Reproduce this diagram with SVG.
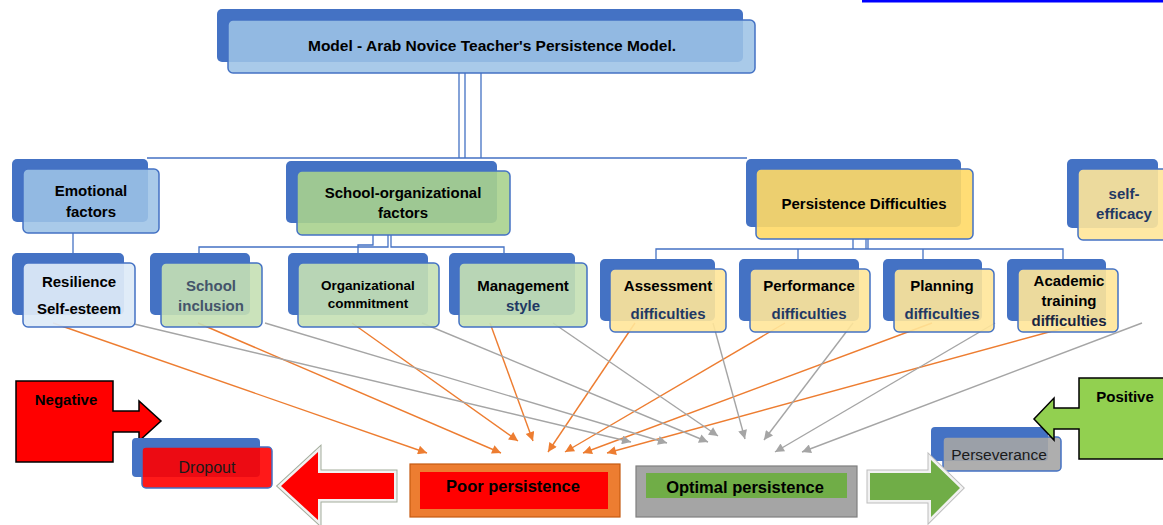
<svg xmlns="http://www.w3.org/2000/svg" width="1163" height="525" viewBox="0 0 1163 525">
<defs>
<style>
text{font-family:"Liberation Sans",Arial,sans-serif;text-anchor:middle}
.b{font-weight:bold;font-size:15px;fill:#000}
.r{font-size:15.5px;fill:#1a1a1a}
.nv{fill:#1F3864}
.sl{fill:#44546A}
.back{fill:#4472C4}
.fr{stroke:#4472C4;stroke-width:1.5}
.blue{fill:#9DC3E6;fill-opacity:.88}
.lblue{fill:#DEEBF7;fill-opacity:.93}
.green{fill:#A9D18E;fill-opacity:.9}
.lgreen{fill:#C5E0B4;fill-opacity:.9}
.gold{fill:#FFD966;fill-opacity:.9}
.lgold{fill:#FFE699;fill-opacity:.9}
.red{fill:#FF0000;fill-opacity:.9}
.grey{fill:#A5A5A5;fill-opacity:.9}
.tree{fill:none;stroke:#4472C4;stroke-width:1.3}
.ao{stroke:#ED7D31;stroke-width:1.4;fill:none;marker-end:url(#mo)}
.ag{stroke:#A5A5A5;stroke-width:1.4;fill:none;marker-end:url(#mg)}
</style>
<marker id="mo" viewBox="0 0 10 10" refX="10" refY="5" markerWidth="11" markerHeight="9" markerUnits="userSpaceOnUse" orient="auto"><path d="M0,0 L10,5 L0,10 z" fill="#ED7D31"/></marker>
<marker id="mg" viewBox="0 0 10 10" refX="10" refY="5" markerWidth="11" markerHeight="9" markerUnits="userSpaceOnUse" orient="auto"><path d="M0,0 L10,5 L0,10 z" fill="#A5A5A5"/></marker>
</defs>
<rect width="1163" height="525" fill="#fff"/>
<rect x="862" y="0" width="301" height="2.5" fill="#0000FF"/>

<g id="connectors">
<path class="tree" d="M459,73 V158 M465,73 V158 M481,73 V158 M147,158 H747"/>
<path class="tree" d="M73,233 V253"/>
<path class="tree" d="M373,235 V245 H358 V253 M388,235 V247 H199 V253 M391,235 V247 H504 V253"/>
<path class="tree" d="M853,239 V249 M866,239 V249 M868,239 V249 M656,259 V249 H1063 V259 M798,249 V259 M923,249 V259"/>
<path class="ao" d="M53,323 L427,453"/>
<path class="ao" d="M198,323 L501,453"/>
<path class="ao" d="M352,323 L518,441"/>
<path class="ao" d="M490,323 L533,441"/>
<path class="ao" d="M635,323 L548,452"/>
<path class="ao" d="M785,323 L565,452"/>
<path class="ao" d="M932,323 L583,453"/>
<path class="ao" d="M1082,323 L607,453"/>
<path class="ag" d="M130,323 L631,442"/>
<path class="ag" d="M265,323 L667,443"/>
<path class="ag" d="M422,323 L708,442"/>
<path class="ag" d="M553,323 L718,436"/>
<path class="ag" d="M713,323 L745,439"/>
<path class="ag" d="M853,323 L764,440"/>
<path class="ag" d="M995,323 L775,452"/>
<path class="ag" d="M1142,323 L802,452"/>
</g>

<g id="title">
<rect class="back" x="217" y="9" width="526" height="53" rx="5"/>
<rect class="fr blue" x="228" y="20" width="527" height="53" rx="5"/>
<text class="b" x="492" y="51" style="font-size:15.5px">Model - Arab Novice Teacher's Persistence Model.</text>
</g>

<g id="emotional">
<rect class="back" x="12" y="159" width="136" height="63" rx="5"/>
<rect class="fr blue" x="23" y="169" width="136" height="64" rx="5"/>
<text class="b" x="91" y="196">Emotional</text>
<text class="b" x="91" y="217">factors</text>
</g>

<g id="school-org">
<rect class="back" x="286" y="161" width="211" height="62" rx="5"/>
<rect class="fr green" x="297" y="171" width="213" height="64" rx="5"/>
<text class="b" x="403" y="198">School-organizational</text>
<text class="b" x="403" y="218">factors</text>
</g>

<g id="persistence-difficulties">
<rect class="back" x="746" y="159" width="215" height="68" rx="5"/>
<rect class="fr gold" x="756" y="169" width="217" height="70" rx="5"/>
<text class="b" x="864" y="209">Persistence Difficulties</text>
</g>

<g id="self-efficacy">
<rect class="back" x="1067" y="159" width="91" height="69" rx="5"/>
<rect class="fr lgold" x="1078" y="169" width="95" height="71" rx="5"/>
<text class="b nv" x="1124" y="199">self-</text>
<text class="b nv" x="1124" y="219">efficacy</text>
</g>

<g id="resilience">
<rect class="back" x="12" y="253" width="112" height="62" rx="5"/>
<rect class="fr lblue" x="23" y="263" width="112" height="64" rx="5"/>
<text class="b" x="79" y="287">Resilience</text>
<text class="b" x="79" y="314">Self-esteem</text>
</g>

<g id="school-inclusion">
<rect class="back" x="150" y="253" width="100" height="62" rx="5"/>
<rect class="fr lgreen" x="161" y="263" width="101" height="64" rx="5"/>
<text class="b sl" x="211" y="291">School</text>
<text class="b sl" x="211" y="311">inclusion</text>
</g>

<g id="org-commitment">
<rect class="back" x="288" y="253" width="140" height="62" rx="5"/>
<rect class="fr lgreen" x="298" y="263" width="141" height="64" rx="5"/>
<text class="b" x="368" y="290" style="font-size:13.5px">Organizational</text>
<text class="b" x="368" y="308" style="font-size:13.5px">commitment</text>
</g>

<g id="management">
<rect class="back" x="449" y="253" width="126" height="62" rx="5"/>
<rect class="fr lgreen" x="459" y="263" width="128" height="64" rx="5"/>
<text class="b" x="523" y="291">Management</text>
<text class="b nv" x="523" y="311">style</text>
</g>

<g id="assessment">
<rect class="back" x="600" y="259" width="115" height="62" rx="5"/>
<rect class="fr lgold" x="610" y="269" width="116" height="63" rx="5"/>
<text class="b" x="668" y="291">Assessment</text>
<text class="b nv" x="668" y="319">difficulties</text>
</g>

<g id="performance">
<rect class="back" x="739" y="259" width="120" height="62" rx="5"/>
<rect class="fr lgold" x="750" y="269" width="120" height="63" rx="5"/>
<text class="b" x="809" y="291">Performance</text>
<text class="b nv" x="809" y="319">difficulties</text>
</g>

<g id="planning">
<rect class="back" x="883" y="259" width="99" height="62" rx="5"/>
<rect class="fr lgold" x="894" y="269" width="100" height="63" rx="5"/>
<text class="b" x="942" y="291">Planning</text>
<text class="b nv" x="942" y="319">difficulties</text>
</g>

<g id="academic">
<rect class="back" x="1007" y="259" width="99" height="62" rx="5"/>
<rect class="fr lgold" x="1018" y="269" width="100" height="63" rx="5"/>
<text class="b" x="1069" y="286">Academic</text>
<text class="b" x="1069" y="306">training</text>
<text class="b" x="1069" y="326" style="fill:#1a2540">difficulties</text>
</g>

<g id="negative">
<polygon points="16,381 113,381 113,411 139,411 139,401 161,421 139,441 139,432 113,432 113,462 16,462" fill="#FF0000" stroke="#000" stroke-width="1.5"/>
<text class="b" x="66" y="405">Negative</text>
</g>

<g id="dropout">
<rect class="back" x="132" y="438" width="128" height="39" rx="4"/>
<rect class="fr red" x="142" y="447" width="130" height="41" rx="4"/>
<text class="r" x="207" y="473" style="font-size:16px">Dropout</text>
</g>

<g id="left-arrow">
<polygon points="281,486 318,452 318,473 394,473 394,499 318,499 318,520" fill="#E8E8E8" stroke="#A3AD9C" stroke-width="7" stroke-linejoin="miter"/>
<polygon points="281,486 318,452 318,473 394,473 394,499 318,499 318,520" fill="#FF0000" stroke="#F2F2F2" stroke-width="5" stroke-linejoin="miter"/>
<polygon points="281,486 318,452 318,473 394,473 394,499 318,499 318,520" fill="#FF0000"/>
</g>

<g id="poor-persistence">
<rect x="410" y="464" width="210" height="53" fill="#ED7D31" stroke="#C55A11" stroke-width="1.2"/>
<rect x="420" y="472" width="188" height="37" fill="#FF0000"/>
<text class="b" x="513" y="492" style="font-size:16.5px">Poor persistence</text>
</g>

<g id="optimal-persistence">
<rect x="636" y="466" width="221" height="51" fill="#A5A5A5" stroke="#7F7F7F" stroke-width="1.2"/>
<rect x="646" y="473" width="201" height="25" fill="#70AD47"/>
<text class="b" x="745" y="493" style="font-size:16.5px">Optimal persistence</text>
</g>

<g id="perseverance">
<rect class="back" x="931" y="427" width="117" height="34" rx="4"/>
<rect class="fr grey" x="943" y="437" width="118" height="34" rx="4"/>
<text class="r" x="999" y="460">Perseverance</text>
</g>

<g id="right-arrow">
<polygon points="870,473 931,473 931,460 960,488 931,517 931,500 870,500" fill="#E8E8E8" stroke="#BDBDBD" stroke-width="7" stroke-linejoin="miter"/>
<polygon points="870,473 931,473 931,460 960,488 931,517 931,500 870,500" fill="#70AD47" stroke="#F2F2F2" stroke-width="5" stroke-linejoin="miter"/>
<polygon points="870,473 931,473 931,460 960,488 931,517 931,500 870,500" fill="#70AD47"/>
</g>

<g id="positive">
<polygon points="1165,378 1079,378 1079,408 1054,408 1054,398 1034,419 1054,440 1054,429 1079,429 1079,459 1165,459" fill="#92D050" stroke="#000" stroke-width="1.5"/>
<text class="b" x="1125" y="402">Positive</text>
</g>
</svg>
